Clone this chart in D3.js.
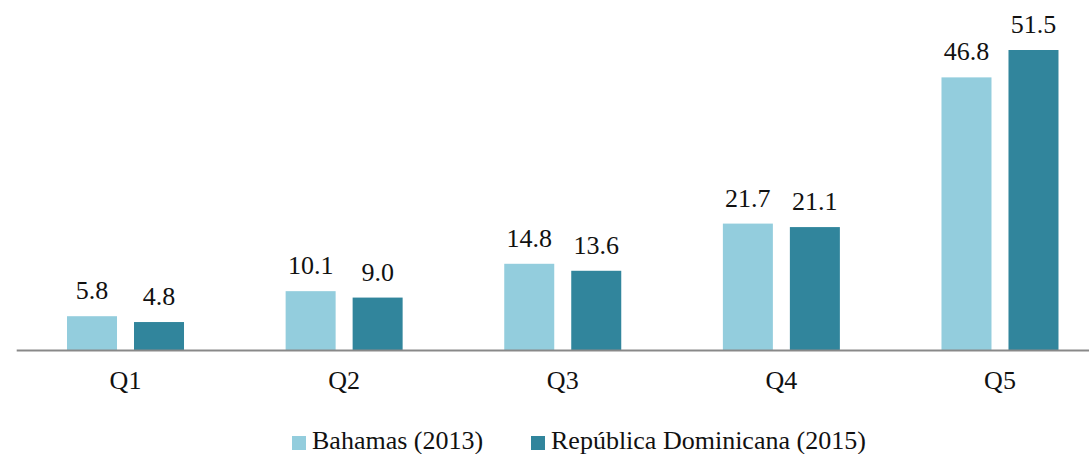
<!DOCTYPE html>
<html>
<head>
<meta charset="utf-8">
<script src="https://cdn.jsdelivr.net/npm/d3@7"></script>
<style>
  body { margin: 0; background: #fff; }
</style>
</head>
<body>
<div id="chart"></div>
<script>
  const categories = ["Q1", "Q2", "Q3", "Q4", "Q5"];
  const seriesNames = ["Bahamas (2013)", "República Dominicana (2015)"];
  const bahamas = [5.8, 10.1, 14.8, 21.7, 46.8];
  const dominicana = [4.8, 9.0, 13.6, 21.1, 51.5];
  const colors = ["#93cddd", "#31859c"];

  const width = 1089, height = 454;
  const baseline = 350;
  const font = "'Liberation Serif'";

  const svg = d3.select("#chart").append("svg")
    .attr("width", width)
    .attr("height", height)
    .style("font-family", font);

  const x = d3.scaleBand()
    .domain(categories)
    .range([16.2, 1109.3]);

  const y = d3.scaleLinear()
    .domain([0, 51.5])
    .range([baseline, 50]);

  const series = [bahamas, dominicana];
  // two 50px bars with a 17px gap, centred in each band
  const groupOffset = (x.bandwidth() - 117) / 2;

  series.forEach(function (values, si) {
    const g = svg.append("g").attr("class", "series-" + si);
    g.selectAll("rect")
      .data(values)
      .join("rect")
      .attr("x", (d, i) => x(categories[i]) + groupOffset + si * 67)
      .attr("width", 50)
      .attr("y", d => y(d))
      .attr("height", d => baseline - y(d))
      .attr("fill", colors[si]);

    g.selectAll("text")
      .data(values)
      .join("text")
      .attr("x", (d, i) => x(categories[i]) + groupOffset + si * 67 + 25)
      .attr("y", d => y(d) - 17)
      .attr("text-anchor", "middle")
      .style("font-family", font)
      .style("font-size", "26px")
      .attr("fill", "#111")
      .text(d => d.toFixed(1));
  });

  // axis line + category labels
  const axis = svg.append("g")
    .attr("transform", "translate(0," + baseline + ")")
    .call(d3.axisBottom(x).tickSize(0).tickPadding(0));
  axis.attr("font-family", null).attr("font-size", null);
  axis.select(".domain").attr("stroke", "#898989").attr("stroke-width", 2);
  axis.selectAll(".tick text")
    .style("font-family", font)
    .style("font-size", "26px")
    .attr("fill", "#111")
    .attr("dy", null)
    .attr("y", 39);

  // legend
  const legendX = [292, 531];
  const legend = svg.append("g").attr("class", "legend");
  seriesNames.forEach(function (name, i) {
    legend.append("rect")
      .attr("x", legendX[i])
      .attr("y", 436)
      .attr("width", 14)
      .attr("height", 14)
      .attr("fill", colors[i]);
    legend.append("text")
      .attr("x", legendX[i] + 20)
      .attr("y", 449)
      .style("font-family", font)
      .style("font-size", "26px")
      .attr("fill", "#111")
      .text(name);
  });
</script>
</body>
</html>
